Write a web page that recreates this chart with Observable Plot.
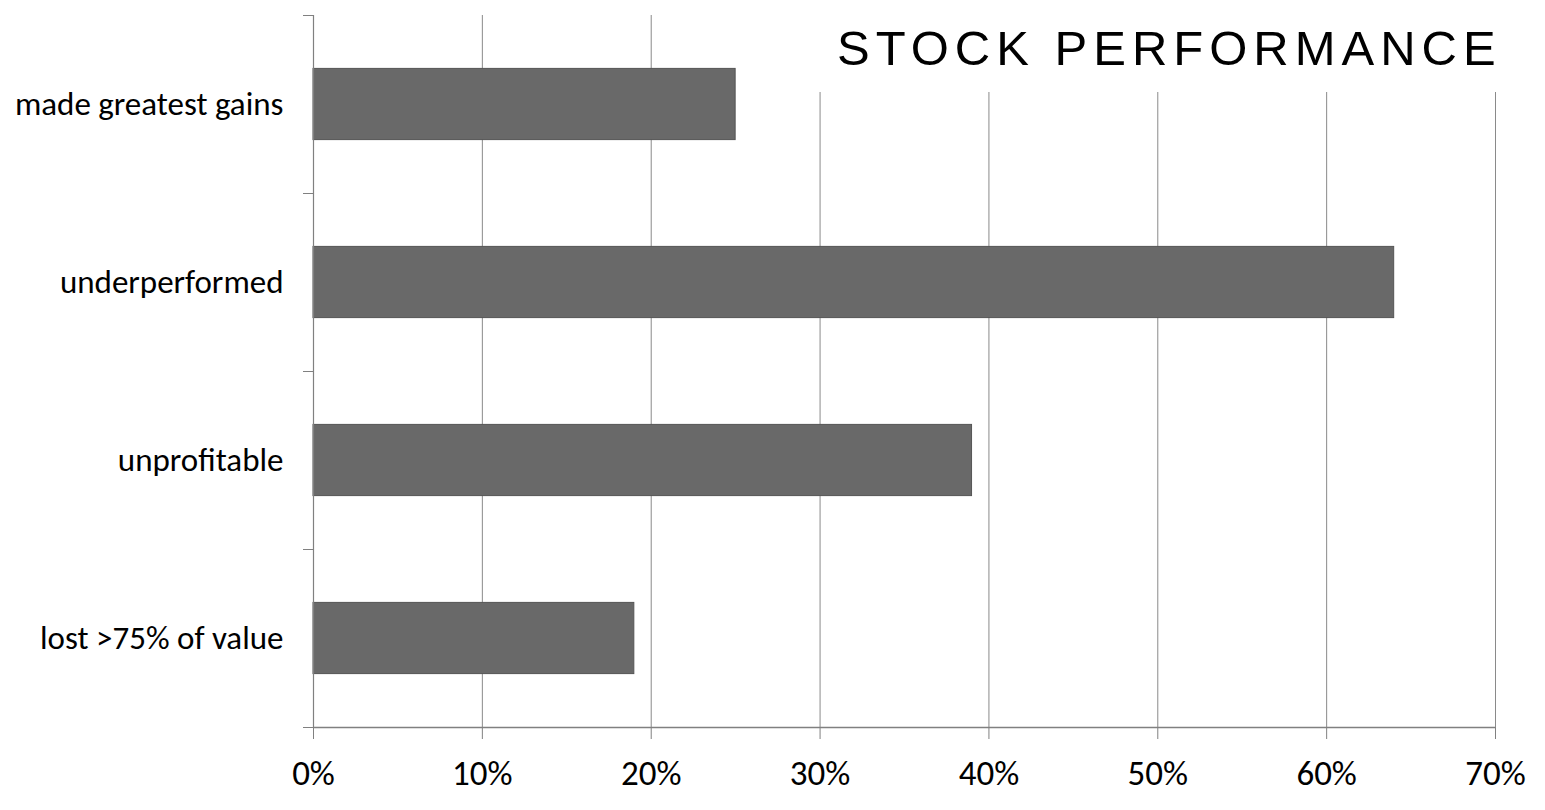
<!DOCTYPE html>
<html>
<head>
<meta charset="utf-8">
<script src="https://cdn.jsdelivr.net/npm/d3@7"></script>
<script src="https://cdn.jsdelivr.net/npm/@observablehq/plot@0.6"></script>
<style>
  html, body { margin: 0; padding: 0; background: #fff; overflow: hidden; }
  #wrap { position: relative; width: 1545px; height: 810px; }
  #title {
    position: absolute; left: 800px; top: 15px; width: 700px; height: 77px;
    background: #fff; font-family: "Liberation Sans", Arial, sans-serif;
    font-size: 49px; letter-spacing: 6px; color: #000; white-space: nowrap;
    box-sizing: border-box; padding-left: 37px; padding-top: 5px; line-height: 56px;
  }
</style>
</head>
<body>
<div id="wrap"><div id="title">STOCK PERFORMANCE</div></div>
<script>
const categories = ["made greatest gains", "underperformed", "unprofitable", "lost >75% of value"];
const values = [0.25, 0.64, 0.39, 0.19];
const xTicks = [0, 0.1, 0.2, 0.3, 0.4, 0.5, 0.6, 0.7];
const titleText = "STOCK PERFORMANCE";

const data = categories.map((c, i) => ({ c, v: values[i], i }));
const bounds = d3.range(categories.length + 1);
const centers = categories.map((_, i) => i + 0.5);

const chart = Plot.plot({
  width: 1545,
  height: 810,
  marginLeft: 313,
  marginRight: 50,
  marginTop: 15,
  marginBottom: 83,
  style: { fontFamily: "Carlito, Lato, sans-serif", color: "#000", background: "#fff", overflow: "visible" },
  x: { domain: [0, 0.7] },
  y: { domain: [0, categories.length], reverse: true },
  marks: [
    Plot.gridX(xTicks, { stroke: "#8a8a8a", strokeOpacity: 1, strokeWidth: 1 }),
    Plot.rectX(data, {
      x1: 0, x2: "v",
      y1: d => d.i + 0.3, y2: d => d.i + 0.7,
      fill: "#696969", stroke: "#555", strokeWidth: 1
    }),
    Plot.ruleX([0], { stroke: "#808080", strokeWidth: 1.2 }),
    Plot.ruleY([categories.length], { stroke: "#808080", strokeWidth: 1.5 }),
    Plot.axisX(xTicks, {
      tickFormat: d3.format(".0%"), tickSize: 12, tickPadding: 21,
      fontSize: 35, stroke: "#808080", label: null
    }),
    Plot.axisY(bounds, { tickSize: 10, tickFormat: () => "", stroke: "#808080", label: null }),
    Plot.axisY(centers, {
      tickSize: 0, tickPadding: 30, fontSize: 33, label: null,
      tickFormat: d => categories[Math.floor(d)]
    })
  ]
});
document.getElementById("wrap").prepend(chart);
document.getElementById("title").textContent = titleText;
</script>
</body>
</html>
